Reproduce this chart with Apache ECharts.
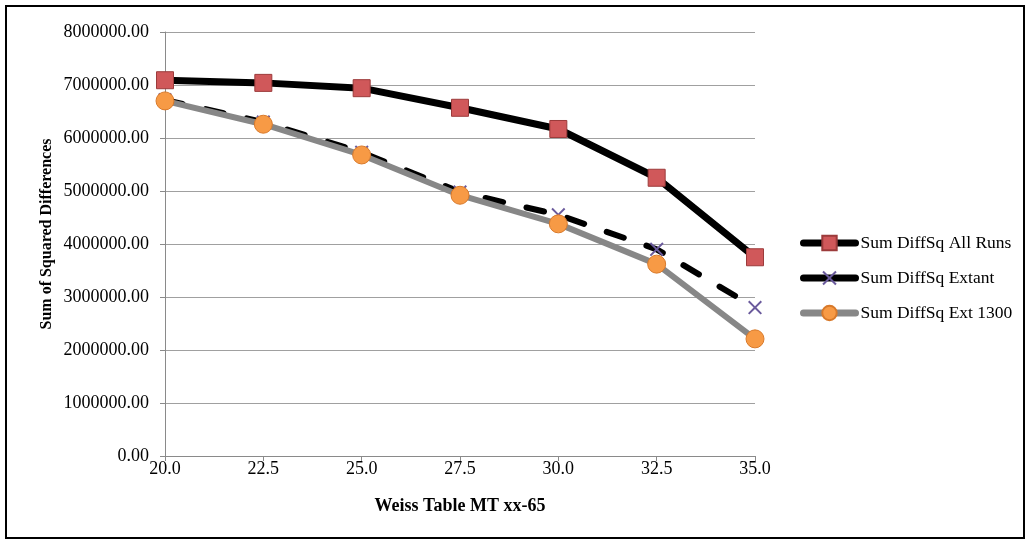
<!DOCTYPE html>
<html><head><meta charset="utf-8">
<script src="https://cdn.jsdelivr.net/npm/echarts@6/dist/echarts.min.js"></script>
<style>
html,body{margin:0;padding:0;background:#fff;}
#frame{position:absolute;left:5px;top:5px;width:1016px;height:530px;border:2px solid #000;}
#c{position:absolute;left:0;top:0;width:1028px;height:542px;}
</style></head>
<body><div id="frame"></div><div id="c"></div>
<script>
const xValues = [20.0, 22.5, 25.0, 27.5, 30.0, 32.5, 35.0];
const allRuns = [7090000, 7040000, 6940000, 6570000, 6170000, 5250000, 3750000];
const extant = [6720000, 6300000, 5730000, 4980000, 4550000, 3900000, 2800000];
const ext1300 = [6700000, 6260000, 5680000, 4920000, 4380000, 3620000, 2210000];
const seriesNames = ['Sum DiffSq All Runs', 'Sum DiffSq Extant', 'Sum DiffSq Ext 1300'];
const xAxisTitle = 'Weiss Table MT xx-65';
const yAxisTitle = 'Sum of Squared Differences';

const pair = (vals) => xValues.map((x, i) => [x, vals[i]]);
const font = 'Liberation Serif';
const crossPath = 'path://M0,1 L1,0 L5,4 L9,0 L10,1 L6,5 L10,9 L9,10 L5,6 L1,10 L0,9 L4,5 Z';

const chart = echarts.init(document.getElementById('c'));
chart.setOption({
  animation: false,
  grid: {left: 165, right: 273, top: 32, bottom: 86},
  graphic: [{
    type: 'text', x: 47, y: 234, rotation: Math.PI / 2,
    style: {text: yAxisTitle, fontFamily: font, fontSize: 16, fontWeight: 'bold', fill: '#000',
            textAlign: 'center', textVerticalAlign: 'middle'}
  }],
  xAxis: {
    type: 'value', min: 20, max: 35, interval: 2.5,
    name: xAxisTitle, nameLocation: 'middle', nameGap: 41,
    nameTextStyle: {fontFamily: font, fontSize: 18, fontWeight: 'bold', color: '#000'},
    axisLine: {lineStyle: {color: '#8a8a8a', width: 1}},
    axisTick: {show: true, length: 5, lineStyle: {color: '#8a8a8a'}},
    axisLabel: {fontFamily: font, fontSize: 18, color: '#000', margin: 4, formatter: v => v.toFixed(1)},
    splitLine: {show: false}
  },
  yAxis: {
    type: 'value', min: 0, max: 8000000, interval: 1000000,
    axisLine: {show: true, lineStyle: {color: '#8a8a8a', width: 1}},
    axisTick: {show: true, length: 5, lineStyle: {color: '#8a8a8a'}},
    axisLabel: {fontFamily: font, fontSize: 18, color: '#000', margin: 16, formatter: v => v.toFixed(2)},
    splitLine: {show: true, lineStyle: {color: '#a0a0a0', width: 1}}
  },
  legend: {
    orient: 'vertical', left: 795, top: 229, itemGap: 17,
    itemWidth: 52, itemHeight: 18,
    textStyle: {fontFamily: font, fontSize: 17.5, color: '#000'},
    lineStyle: {width: 7, cap: 'round'},
    data: [
      {name: seriesNames[0]},
      {name: seriesNames[1], lineStyle: {width: 7, type: 'solid', cap: 'round'}},
      {name: seriesNames[2]}
    ]
  },
  series: [
    {
      name: seriesNames[0], type: 'line', data: pair(allRuns),
      lineStyle: {color: '#000', width: 7, cap: 'round'},
      symbol: 'rect', symbolSize: 17,
      itemStyle: {color: '#d0585a', borderColor: '#9c3b3b', borderWidth: 1}
    },
    {
      name: seriesNames[1], type: 'line', data: pair(extant),
      lineStyle: {color: '#000', width: 6, type: [18, 24], cap: 'round'},
      symbol: crossPath, symbolSize: 14,
      itemStyle: {color: '#6a5a9c', borderWidth: 0}
    },
    {
      name: seriesNames[2], type: 'line', data: pair(ext1300),
      lineStyle: {color: '#878787', width: 6, cap: 'round'},
      symbol: 'circle', symbolSize: 18,
      itemStyle: {color: '#f79a45', borderColor: '#d8792a', borderWidth: 1}
    }
  ]
});
</script></body></html>
